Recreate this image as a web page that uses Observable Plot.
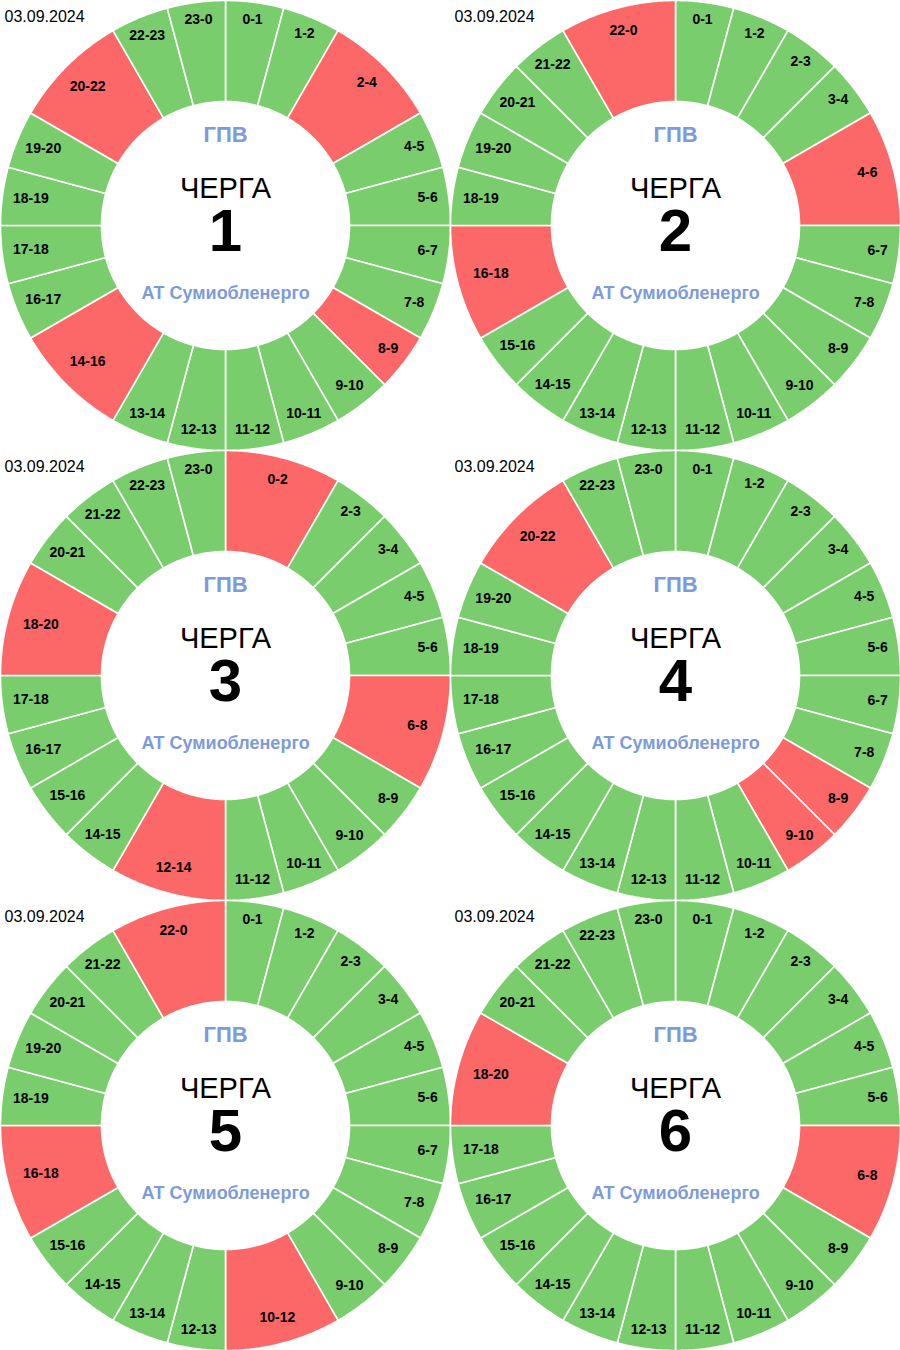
<!DOCTYPE html>
<html><head><meta charset="utf-8">
<script src="https://cdn.jsdelivr.net/npm/d3@7"></script>
<script src="https://cdn.jsdelivr.net/npm/@observablehq/plot@0.6"></script>
<style>
html,body{margin:0;padding:0;background:#fff;overflow:hidden}
#grid{display:grid;grid-template-columns:450px 450px;width:900px}
#grid svg{display:block}
</style></head><body><div id="grid"></div>
<script>
const date = "03.09.2024";
const title = "ГПВ";
const queueWord = "ЧЕРГА";
const company = "АТ Сумиобленерго";
const queues = [1, 2, 3, 4, 5, 6];
const outages1 = ["2-4", "8-9", "14-16", "20-22"];
const outages2 = ["22-0", "4-6", "16-18"];
const outages3 = ["0-2", "6-8", "12-14", "18-20"];
const outages4 = ["8-9", "9-10", "20-22"];
const outages5 = ["10-12", "16-18", "22-0"];
const outages6 = ["6-8", "18-20"];
const outagesByQueue = [outages1, outages2, outages3, outages4, outages5, outages6];
const statusDomain = ["on", "off"];
const statusColors = ["#7acd6d", "#fc6868"];
const blue = "#7b9bdb";

const R = 225, R0 = 124;
const font = "'Liberation Sans', Arial, sans-serif";

function buildSegments(outages) {
  const starts = new Map(outages.map(s => {
    const [a, b] = s.split("-").map(Number);
    return [a, ((b - a) + 24) % 24 || 24];
  }));
  const segs = [];
  let h = 0;
  while (h < 24) {
    if (starts.has(h)) {
      const span = starts.get(h);
      segs.push({start: h, end: h + span, span, status: "off"});
      h += span;
    } else {
      segs.push({start: h, end: h + 1, span: 1, status: "on"});
      h += 1;
    }
  }
  segs.forEach((s, i) => { s.id = i; s.label = `${s.start}-${s.end % 24}`; });
  return segs;
}

function polygonPoints(segs) {
  const pts = [];
  for (const s of segs) {
    const a0 = s.start * 15, a1 = s.end * 15;
    const n = Math.ceil((a1 - a0) / 0.5);
    for (let i = 0; i <= n; i++) {
      const a = (a0 + (a1 - a0) * i / n) * Math.PI / 180;
      pts.push({id: s.id, status: s.status, x: R * Math.sin(a), y: R * Math.cos(a)});
    }
    for (let i = n; i >= 0; i--) {
      const a = (a0 + (a1 - a0) * i / n) * Math.PI / 180;
      pts.push({id: s.id, status: s.status, x: R0 * Math.sin(a), y: R0 * Math.cos(a)});
    }
  }
  return pts;
}

function labelPoints(segs) {
  return segs.map(s => {
    const m = (s.start + s.end) / 2 * 15 * Math.PI / 180;
    let w = 0;
    for (const ch of s.label) w += ch === "-" ? 4.66 : 7.78;
    const hw = w / 2, hh = 7.1;
    const inset = Math.hypot(hw * Math.sin(m), hh * Math.cos(m));
    const r = 214 - inset - (s.span > 1 ? 5.5 : 0);
    return {label: s.label, x: r * Math.sin(m), y: r * Math.cos(m)};
  });
}

const grid = document.getElementById("grid");
queues.forEach((q, qi) => {
  const segs = buildSegments(outagesByQueue[qi]);
  const chart = Plot.plot({
    width: 450, height: 450, margin: 0,
    x: {domain: [-R, R], axis: null},
    y: {domain: [-R, R], axis: null},
    color: {domain: statusDomain, range: statusColors},
    style: {fontFamily: font, background: "#fff", overflow: "visible"},
    marks: [
      Plot.line(polygonPoints(segs), {x: "x", y: "y", z: "id", fill: "status", stroke: "white", strokeWidth: 1.6, curve: "linear-closed", strokeLinejoin: "miter"}),
      Plot.text(labelPoints(segs), {x: "x", y: "y", text: "label", dy: -1.3, fontSize: 14, fontWeight: "bold", fill: "black"}),
      Plot.text([date], {frameAnchor: "top-left", text: d => d, dx: 4, dy: 10, lineAnchor: "top", textAnchor: "start", fontSize: 16, fill: "black"}),
      Plot.text([title], {frameAnchor: "middle", text: d => d, dy: -91, fontSize: 22, fontWeight: "bold", fill: blue}),
      Plot.text([queueWord], {frameAnchor: "middle", text: d => d, dy: -37, fontSize: 29, fill: "black"}),
      Plot.text([String(q)], {frameAnchor: "middle", text: d => d, dy: 6, fontSize: 60, fontWeight: "bold", fill: "black"}),
      Plot.text([company], {frameAnchor: "middle", text: d => d, dy: 68, fontSize: 18, fontWeight: "bold", fill: blue})
    ]
  });
  grid.appendChild(chart);
});
</script>
</body></html>
